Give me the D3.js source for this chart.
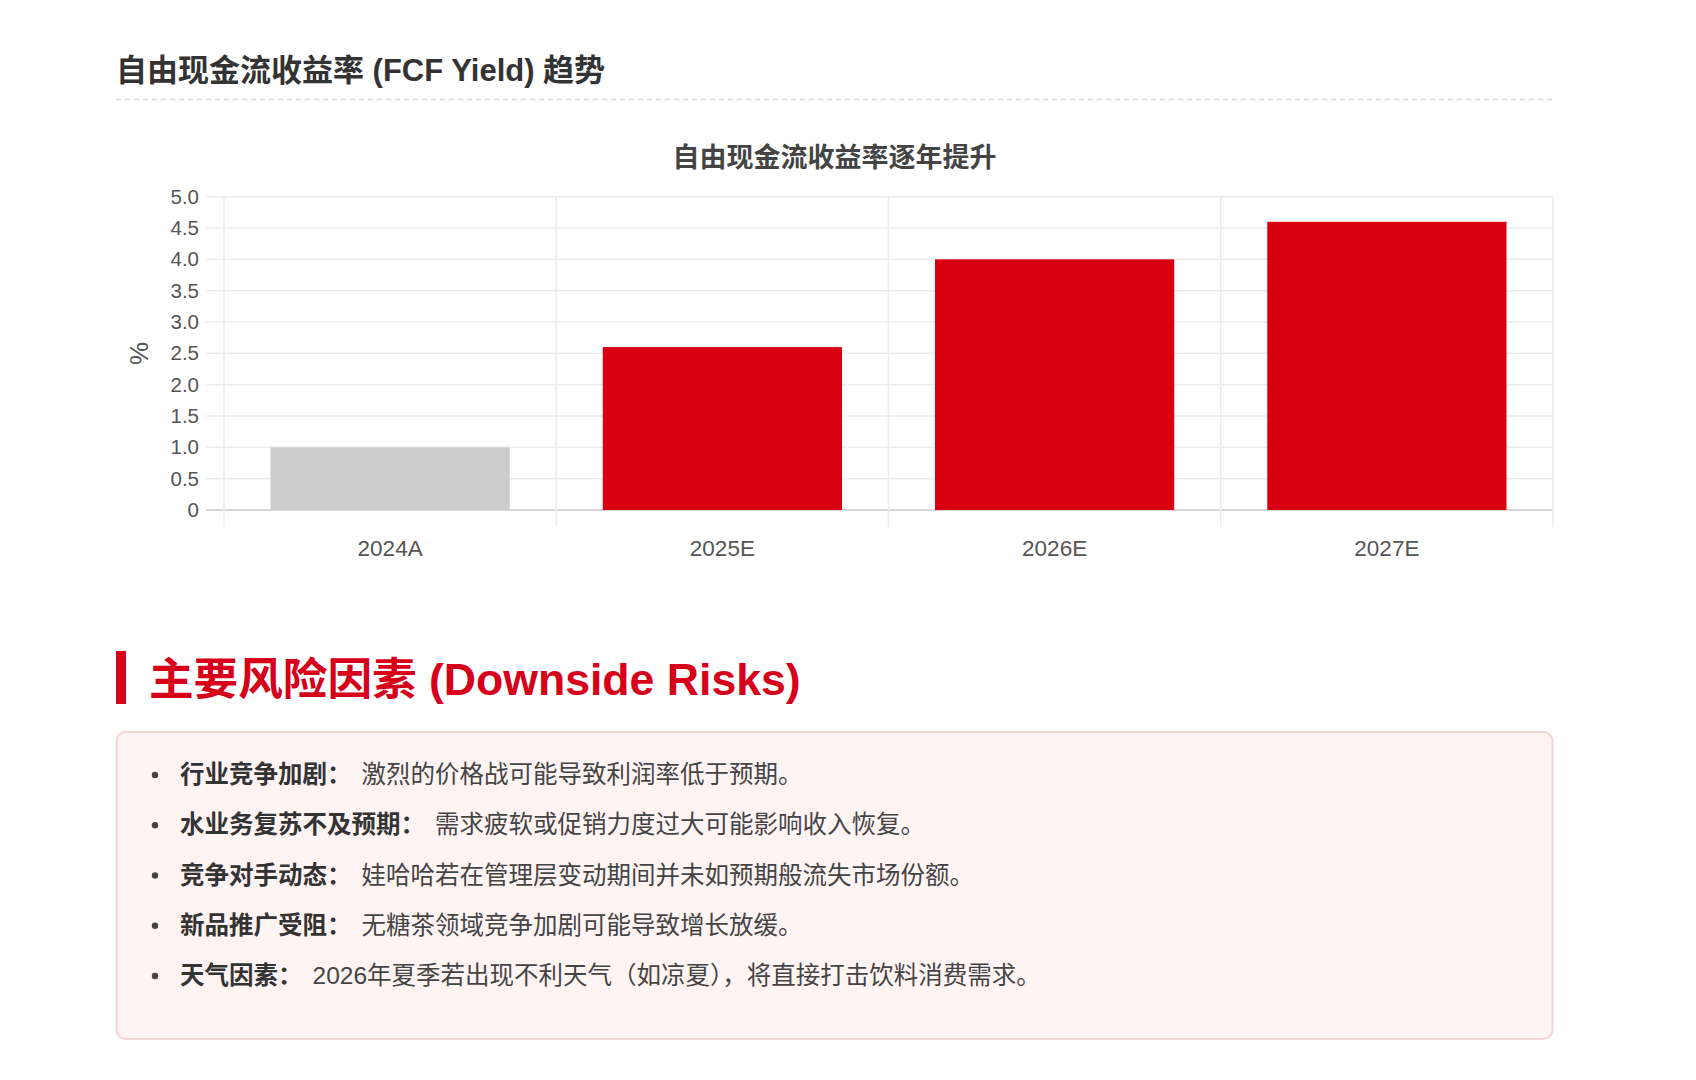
<!DOCTYPE html>
<html><head><meta charset="utf-8">
<script src="https://cdn.jsdelivr.net/npm/d3@7"></script>
<style>
html,body{margin:0;padding:0;background:#fff;}
svg{display:block;}
</style></head>
<body>
<svg id="c" width="1696" height="1080"></svg>
<script>
const categories = ["2024A","2025E","2026E","2027E"];
const fcfYield = [1.0, 2.6, 4.0, 4.6];
const barColors = ["#cccccc","#d90012","#d90012","#d90012"];
const yTicks = [0,0.5,1.0,1.5,2.0,2.5,3.0,3.5,4.0,4.5,5.0];
const sectionTitle = "自由现金流收益率 (FCF Yield) 趋势";
const chartTitle = "自由现金流收益率逐年提升";
const yAxisTitle = "%";
const riskHeading = "主要风险因素 (Downside Risks)";
const riskLabels = ["行业竞争加剧：","水业务复苏不及预期：","竞争对手动态：","新品推广受阻：","天气因素："];
const riskTexts = ["激烈的价格战可能导致利润率低于预期。","需求疲软或促销力度过大可能影响收入恢复。","娃哈哈若在管理层变动期间并未如预期般流失市场份额。","无糖茶领域竞争加剧可能导致增长放缓。","2026年夏季若出现不利天气（如凉夏），将直接打击饮料消费需求。"];

const FONT = "'Liberation Sans', Arial, 'Noto Sans CJK SC', sans-serif";
const svg = d3.select("#c").style("font-family", FONT);

// section title
svg.append("text").attr("x",116).attr("y",70.5).attr("dominant-baseline","central")
  .attr("font-size",31).attr("font-weight","bold").attr("fill","#333").text(sectionTitle);
svg.append("line").attr("x1",116).attr("x2",1553).attr("y1",99.5).attr("y2",99.5)
  .attr("stroke","#e2e2e2").attr("stroke-width",2).attr("stroke-dasharray","5,4");

// chart
const pLeft=224, pRight=1553, pTop=196.7, pBottom=510;
const x = d3.scaleBand().domain(categories).range([pLeft,pRight]).paddingInner(0).paddingOuter(0);
const y = d3.scaleLinear().domain([0,5]).range([pBottom,pTop]);

svg.append("text").attr("x",(116+1553)/2).attr("y",158).attr("text-anchor","middle")
  .attr("dominant-baseline","central").attr("font-size",27).attr("font-weight","bold")
  .attr("fill","#444").text(chartTitle);

// horizontal grid
svg.append("g").selectAll("line").data(yTicks).join("line")
  .attr("x1",pLeft-18).attr("x2",pRight).attr("y1",d=>y(d)).attr("y2",d=>y(d))
  .attr("stroke",d=>d===0?"#d6d6d6":"#ececec").attr("stroke-width",d=>d===0?2:1.5);
// vertical grid at band boundaries
const bounds = categories.map(c=>x(c)).concat([pRight]);
svg.append("g").selectAll("line").data(bounds).join("line")
  .attr("x1",d=>d).attr("x2",d=>d).attr("y1",pTop).attr("y2",pBottom+17)
  .attr("stroke","#ececec").attr("stroke-width",1.5);

// bars
const bw = x.bandwidth()*0.72;
svg.append("g").selectAll("rect").data(fcfYield).join("rect")
  .attr("x",(d,i)=>x(categories[i])+(x.bandwidth()-bw)/2)
  .attr("width",bw)
  .attr("y",d=>y(d)).attr("height",d=>y(0)-y(d))
  .attr("fill",(d,i)=>barColors[i]);

// y axis labels
const yAxis = d3.axisLeft(y).tickValues(yTicks).tickSize(0).tickPadding(0)
  .tickFormat(d=>d===0?"0":d3.format(".1f")(d));
const ya = svg.append("g").attr("transform",`translate(${pLeft-25},0)`).call(yAxis);
ya.select(".domain").remove();
ya.selectAll("text").attr("font-size",20.5).attr("fill","#555").attr("font-family",FONT);

// x axis labels
const xAxis = d3.axisBottom(x).tickSize(0).tickPadding(0);
const xa = svg.append("g").attr("transform",`translate(0,${pBottom+30})`).call(xAxis);
xa.select(".domain").remove();
xa.selectAll("text").attr("font-size",22.5).attr("fill","#555").attr("font-family",FONT);

// y axis title
svg.append("text").attr("transform",`translate(138.5,${(pTop+pBottom)/2}) rotate(-90)`)
  .attr("text-anchor","middle").attr("dominant-baseline","central")
  .attr("font-size",26).attr("fill","#555").text(yAxisTitle);

// risk heading
svg.append("rect").attr("x",116).attr("y",651).attr("width",10).attr("height",53).attr("fill","#d7001a");
svg.append("text").attr("x",149).attr("y",679).attr("dominant-baseline","central")
  .attr("font-size",44.6).attr("font-weight","bold").attr("fill","#d7001a").text(riskHeading);

// risk box
svg.append("rect").attr("x",116.5).attr("y",732).attr("width",1436).attr("height",307)
  .attr("rx",9).attr("ry",9).attr("fill","#fff4f4").attr("stroke","#f7d3d5").attr("stroke-width",2);

const rowY = d3.scalePoint().domain(d3.range(riskLabels.length)).range([774,975]);
const rows = svg.append("g").selectAll("g").data(riskLabels).join("g")
  .attr("transform",(d,i)=>`translate(0,${rowY(i)})`);
rows.append("circle").attr("cx",155).attr("cy",1).attr("r",3.2).attr("fill","#444");
const t = rows.append("text").attr("x",180).attr("y",0).attr("dominant-baseline","central")
  .attr("font-size",24.5).attr("fill","#444");
t.append("tspan").attr("font-weight","bold").attr("fill","#333").text(d=>d);
t.append("tspan").attr("dx",10).text((d,i)=>riskTexts[i]);
</script>
</body></html>
